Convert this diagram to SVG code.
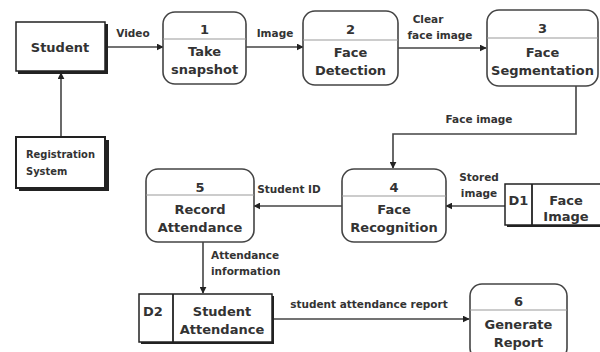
<svg xmlns="http://www.w3.org/2000/svg" width="600" height="352" viewBox="0 0 600 352">
<defs>
<marker id="ah" viewBox="0 0 10 10" refX="9" refY="5" markerWidth="7" markerHeight="7" markerUnits="userSpaceOnUse" orient="auto">
<path d="M0,0 L10,5 L0,10 z" fill="#222"/>
</marker>
</defs>
<style>
.proc{fill:#fff;stroke:#444;stroke-width:1.6}
.div{stroke:#999;stroke-width:1}
.ent{fill:#fff;stroke:#222;stroke-width:1.5}
.sh{fill:#222}
.t{font-family:"DejaVu Sans",Verdana,sans-serif;font-weight:bold;font-size:13px;fill:#333;text-anchor:middle}
.lb{font-family:"DejaVu Sans",Verdana,sans-serif;font-weight:bold;font-size:10.5px;fill:#333}
.c{text-anchor:middle}
.reg{font-family:"DejaVu Sans Condensed","DejaVu Sans",sans-serif;font-size:11px}
.line{fill:none;stroke:#444;stroke-width:1.6;marker-end:url(#ah)}
</style>
<rect width="600" height="352" fill="#fff"/>
<g id="connectors">
<line class="line" x1="106" y1="47" x2="163" y2="47"/>
<line class="line" x1="246" y1="47" x2="303" y2="47"/>
<line class="line" x1="398" y1="48" x2="486" y2="48"/>
<polyline class="line" points="576,86 576,134 393,134 393,168"/>
<line class="line" x1="505" y1="206" x2="446" y2="206"/>
<line class="line" x1="342" y1="206" x2="254" y2="206"/>
<line class="line" x1="203" y1="242" x2="203" y2="293"/>
<line class="line" x1="272" y1="319" x2="469" y2="319"/>
<line class="line" x1="61" y1="137" x2="61" y2="73"/>
<text class="lb c" x="133" y="37">Video</text>
<text class="lb c" x="275" y="37">Image</text>
<text class="lb c" x="428" y="23">Clear</text>
<text class="lb c" x="440" y="39">face image</text>
<text class="lb c" x="479" y="123">Face image</text>
<text class="lb c" x="479" y="181">Stored</text>
<text class="lb c" x="479" y="197">image</text>
<text class="lb c" x="289" y="193">Student ID</text>
<text class="lb" x="211" y="259">Attendance</text>
<text class="lb" x="211" y="275">information</text>
<text class="lb c" x="369" y="308">student attendance report</text>
</g>
<g id="student">
<rect class="sh" x="18" y="24" width="90" height="50"/>
<rect class="ent" x="16" y="22" width="89" height="49"/>
<text class="t" x="60" y="52">Student</text>
</g>
<g id="registration">
<rect class="sh" x="19" y="140" width="90" height="51"/>
<rect class="ent" x="16" y="137" width="89" height="51" style="stroke-width:2"/>
<text class="lb reg" x="26" y="158">Registration</text>
<text class="lb reg" x="26" y="175">System</text>
</g>
<g id="p1">
<rect class="proc" x="163" y="12" width="83" height="72" rx="12"/>
<line class="div" x1="163" y1="39" x2="246" y2="39"/>
<text class="t" x="204.5" y="34">1</text>
<text class="t" x="204.5" y="56">Take</text>
<text class="t" x="204.5" y="74">snapshot</text>
</g>
<g id="p2">
<rect class="proc" x="303" y="11" width="95" height="74" rx="12"/>
<line class="div" x1="303" y1="40" x2="398" y2="40"/>
<text class="t" x="350.5" y="34">2</text>
<text class="t" x="350.5" y="57">Face</text>
<text class="t" x="350.5" y="75">Detection</text>
</g>
<g id="p3">
<rect class="proc" x="487" y="10" width="111" height="76" rx="12"/>
<line class="div" x1="487" y1="38" x2="598" y2="38"/>
<text class="t" x="542.5" y="33">3</text>
<text class="t" x="542.5" y="57">Face</text>
<text class="t" x="542.5" y="75">Segmentation</text>
</g>
<g id="p4">
<rect class="proc" x="342" y="169" width="104" height="73" rx="12"/>
<line class="div" x1="342" y1="196" x2="446" y2="196"/>
<text class="t" x="394" y="192">4</text>
<text class="t" x="394" y="214">Face</text>
<text class="t" x="394" y="232">Recognition</text>
</g>
<g id="p5">
<rect class="proc" x="146" y="169" width="108" height="73" rx="12"/>
<line class="div" x1="146" y1="195" x2="254" y2="195"/>
<text class="t" x="200" y="192">5</text>
<text class="t" x="200" y="214">Record</text>
<text class="t" x="200" y="232">Attendance</text>
</g>
<g id="p6">
<rect class="proc" x="470" y="284" width="97" height="76" rx="12"/>
<line class="div" x1="470" y1="310" x2="567" y2="310"/>
<text class="t" x="518.5" y="306">6</text>
<text class="t" x="518.5" y="329">Generate</text>
<text class="t" x="518.5" y="347">Report</text>
</g>
<g id="d1">
<rect class="sh" x="507" y="186" width="100" height="41"/>
<rect class="ent" x="505" y="184" width="100" height="41"/>
<line x1="532" y1="184" x2="532" y2="225" stroke="#222" stroke-width="1.8"/>
<text class="t" x="518.5" y="205">D1</text>
<text class="t" x="566" y="205">Face</text>
<text class="t" x="566" y="221">Image</text>
</g>
<g id="d2">
<rect class="sh" x="141" y="296" width="133" height="48"/>
<rect class="ent" x="139" y="294" width="133" height="48"/>
<line x1="173" y1="294" x2="173" y2="342" stroke="#222" stroke-width="1.8"/>
<text class="t" x="153" y="316">D2</text>
<text class="t" x="222" y="316">Student</text>
<text class="t" x="222" y="334">Attendance</text>
</g>
</svg>
